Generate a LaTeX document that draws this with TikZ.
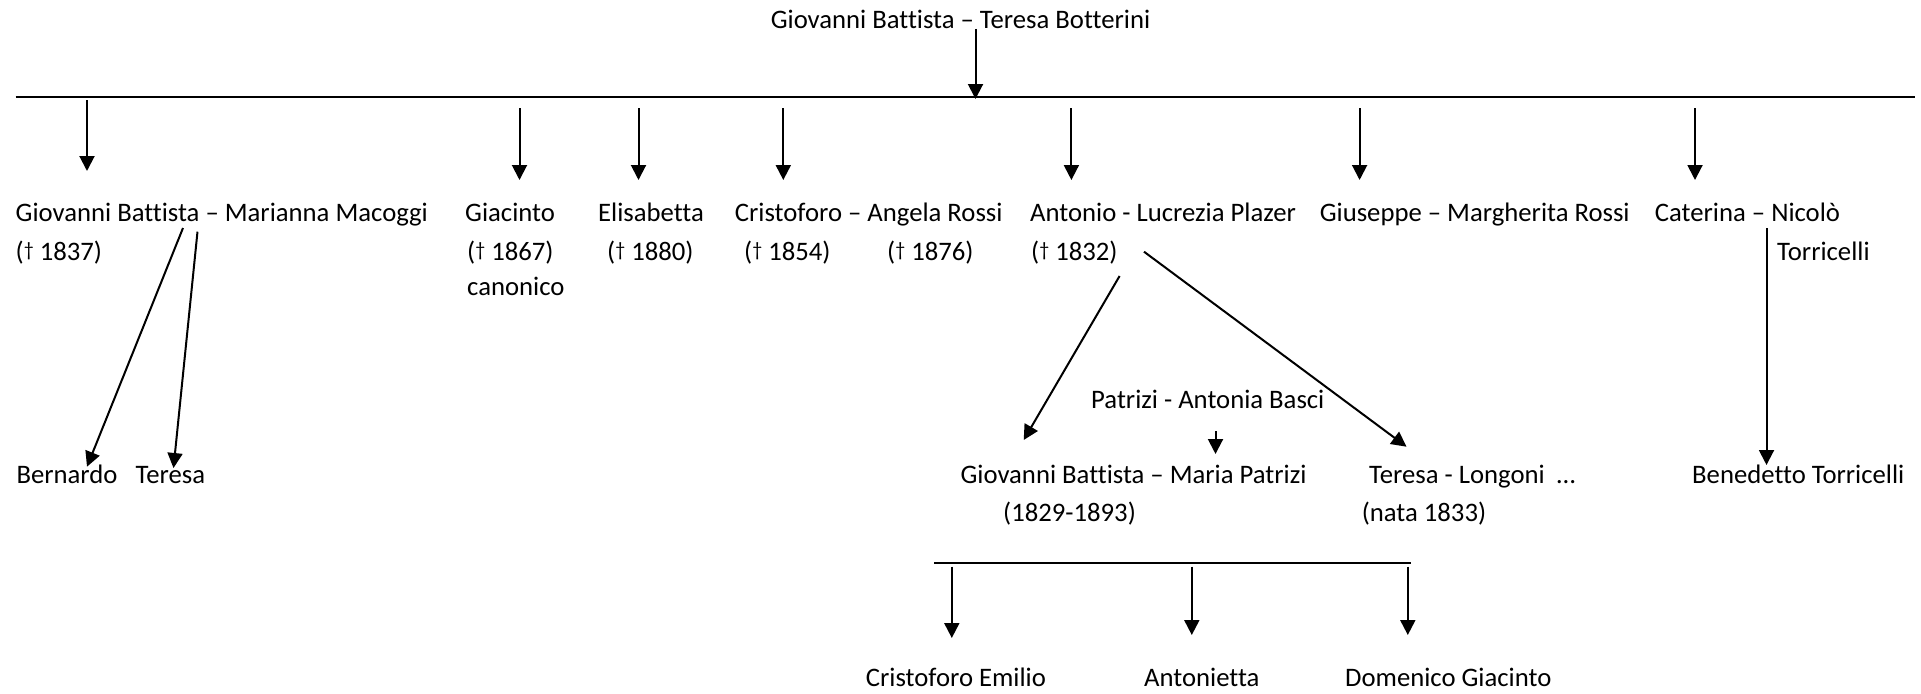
\documentclass[tikz,border=0pt]{standalone}
\usepackage{fontspec}
\setmainfont{Carlito}[Ligatures={NoCommon}]
\usetikzlibrary{arrows.meta}
\newcommand{\dg}{\raisebox{4pt}{\fontsize{20}{20}\selectfont †}}
\begin{document}
\begin{tikzpicture}[x=1pt,y=-1pt,
  lbl/.style={anchor=base west,inner sep=0pt,font=\fontsize{26.7}{32}\selectfont},
  arr/.style={line width=2pt,-{Triangle[width=15pt,length=15pt]}},
  bar/.style={line width=1.6pt},
  plain/.style={line width=2pt}]
\useasboundingbox (0,0) rectangle (1921,693);
% top couple
\node[lbl] (top) at (770.6,29) {Giovanni Battista – Teresa Botterini};
\coordinate (topA) at (975.5,29);
\coordinate (topB) at (975.5,99);
\coordinate (barL) at (15.5,97);
\coordinate (barR) at (1914.7,97);
\draw[bar] (barL) -- (barR);
\draw[arr] (topA) -- (topB);
% row 1
\node[lbl] (gbmm) at (15.5,221.7) {Giovanni Battista – Marianna Macoggi};
\node[lbl] (gbmmd) at (15.5,260) {(\dg\ 1837)};
\node[lbl] (giac) at (465,221.7) {Giacinto};
\node[lbl] (giacd) at (467,260) {(\dg\ 1867)};
\node[lbl] (giacc) at (467,295.5) {canonico};
\node[lbl] (elis) at (598,221.7) {Elisabetta};
\node[lbl] (elisd) at (607,260) {(\dg\ 1880)};
\node[lbl] (cris) at (734.7,221.7) {Cristoforo – Angela Rossi};
\node[lbl] (crisd) at (744,260) {(\dg\ 1854)};
\node[lbl] (angd) at (887,260) {(\dg\ 1876)};
\node[lbl] (anto) at (1030,221.7) {Antonio - Lucrezia Plazer};
\node[lbl] (antod) at (1031,260) {(\dg\ 1832)};
\node[lbl] (gius) at (1319.6,221.7) {Giuseppe – Margherita Rossi};
\node[lbl] (cate) at (1654.7,221.7) {Caterina – Nicolò};
\node[lbl] (torr) at (1777,260) {Torricelli};
% arrows from bar
\coordinate (a1s) at (87,100);  \coordinate (a1e) at (87,171);
\coordinate (a2s) at (519.5,108); \coordinate (a2e) at (519.5,180);
\coordinate (a3s) at (638.5,108); \coordinate (a3e) at (638.5,180);
\coordinate (a4s) at (783.3,108); \coordinate (a4e) at (783.3,180);
\coordinate (a5s) at (1071.4,108); \coordinate (a5e) at (1071.4,180);
\coordinate (a6s) at (1359.6,108); \coordinate (a6e) at (1359.6,180);
\coordinate (a7s) at (1695,108); \coordinate (a7e) at (1695,180);
\foreach \i in {1,...,7} \draw[arr] (a\i s) -- (a\i e);
% row 2
\node[lbl] (bern) at (16.3,483) {Bernardo};
\node[lbl] (tere) at (135.5,483) {Teresa};
\node[lbl] (pat) at (1091,408) {Patrizi - Antonia Basci};
\node[lbl] (gbmp) at (960.4,483) {Giovanni Battista – Maria Patrizi};
\node[lbl] (gbmpd) at (1003,521.7) {(1829-1893)};
\node[lbl] (tlon) at (1369,483) {Teresa - Longoni\ \ …};
\node[lbl] (tlond) at (1361.6,521.7) {(nata 1833)};
\node[lbl] (bene) at (1692,483) {Benedetto Torricelli};
\coordinate (b1s) at (183,228); \coordinate (b1e) at (87,466.7);
\coordinate (b2s) at (197.5,231.7); \coordinate (b2e) at (173.5,468);
\draw[arr] (b1s) -- (b1e);
\draw[arr] (b2s) -- (b2e);
\coordinate (c1s) at (1119.6,276); \coordinate (c1e) at (1023.7,440);
\coordinate (c2s) at (1144,251.7); \coordinate (c2e) at (1406.5,446.7);
\draw[arr] (c1s) -- (c1e);
\draw[arr] (c2s) -- (c2e);
\coordinate (ps) at (1215.5,431); \coordinate (pe) at (1215.5,454);
\draw[arr] (ps) -- (pe);
\coordinate (ns) at (1766.5,228); \coordinate (ne) at (1766.5,465);
\draw[arr] (ns) -- (ne);
% lower generation
\coordinate (lbL) at (934,563); \coordinate (lbR) at (1411.4,563);
\draw[bar] (lbL) -- (lbR);
\coordinate (d1s) at (951.8,566.7); \coordinate (d1e) at (951.8,638);
\coordinate (d2s) at (1191.8,566.7); \coordinate (d2e) at (1191.8,635);
\coordinate (d3s) at (1407.8,566.7); \coordinate (d3e) at (1407.8,635);
\foreach \i in {1,2,3} \draw[arr] (d\i s) -- (d\i e);
\node[lbl] (cem) at (865.7,686.7) {Cristoforo Emilio};
\node[lbl] (anet) at (1144,686.7) {Antonietta};
\node[lbl] (dgi) at (1345,686.7) {Domenico Giacinto};
\end{tikzpicture}
\end{document}
